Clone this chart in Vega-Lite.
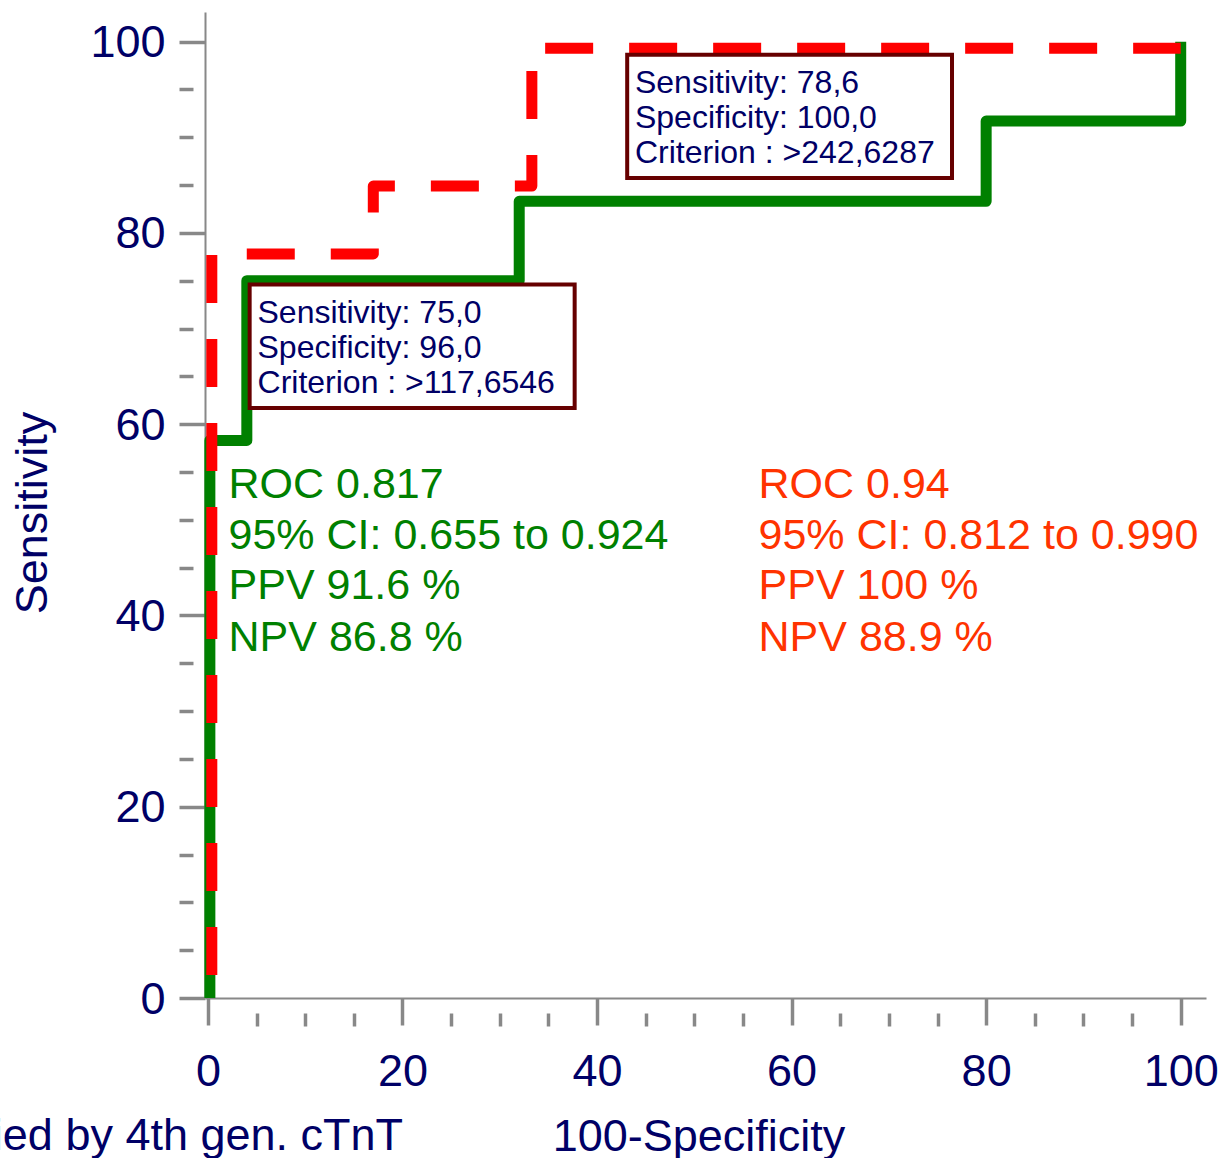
{
  "$schema": "https://vega.github.io/schema/vega-lite/v6.json",
  "width": 1001,
  "height": 986,
  "autosize": {"type": "none"},
  "padding": {"left": 205, "top": 12, "right": 16, "bottom": 160},
  "background": "white",
  "config": {
    "view": {"stroke": null},
    "font": "Liberation Sans",
    "axis": {"grid": false, "labelFont": "Liberation Sans", "titleFont": "Liberation Sans"}
  },
  "datasets": {
    "roc": [
      {"test": "A", "i": 0, "x": 0.2, "y": 0},
      {"test": "A", "i": 1, "x": 0.2, "y": 58.3},
      {"test": "A", "i": 2, "x": 4, "y": 58.3},
      {"test": "A", "i": 3, "x": 4, "y": 75},
      {"test": "A", "i": 4, "x": 32, "y": 75},
      {"test": "A", "i": 5, "x": 32, "y": 83.3},
      {"test": "A", "i": 6, "x": 80, "y": 83.3},
      {"test": "A", "i": 7, "x": 80, "y": 91.7},
      {"test": "A", "i": 8, "x": 100, "y": 91.7},
      {"test": "A", "i": 9, "x": 100, "y": 100},
      {"test": "B", "i": 0, "x": 0.4, "y": 0},
      {"test": "B", "i": 1, "x": 0.4, "y": 77.8},
      {"test": "B", "i": 2, "x": 17.0, "y": 77.8},
      {"test": "B", "i": 3, "x": 17.0, "y": 84.9},
      {"test": "B", "i": 4, "x": 33.3, "y": 84.9},
      {"test": "B", "i": 5, "x": 33.3, "y": 99.3},
      {"test": "B", "i": 6, "x": 100, "y": 99.3}
    ],
    "boxes": [
      {"x": 4.29, "x2": 37.7, "y": 74.6, "y2": 61.69},
      {"x": 43.1, "x2": 76.49, "y": 98.64, "y2": 85.75}
    ],
    "boxtext": [
      {"x": 5.1, "y": 70.62, "text": "Sensitivity: 75,0"},
      {"x": 5.1, "y": 66.95, "text": "Specificity: 96,0"},
      {"x": 5.1, "y": 63.29, "text": "Criterion : >117,6546"},
      {"x": 43.9, "y": 94.67, "text": "Sensitivity: 78,6"},
      {"x": 43.9, "y": 90.97, "text": "Specificity: 100,0"},
      {"x": 43.9, "y": 87.35, "text": "Criterion : >242,6287"}
    ],
    "stats": [
      {"test": "A", "x": 2.12, "y": 52.24, "text": "ROC 0.817"},
      {"test": "A", "x": 2.12, "y": 46.92, "text": "95% CI: 0.655 to 0.924"},
      {"test": "A", "x": 2.12, "y": 41.69, "text": "PPV 91.6 %"},
      {"test": "A", "x": 2.12, "y": 36.32, "text": "NPV 86.8 %"},
      {"test": "B", "x": 56.6, "y": 52.24, "text": "ROC 0.94"},
      {"test": "B", "x": 56.6, "y": 46.92, "text": "95% CI: 0.812 to 0.990"},
      {"test": "B", "x": 56.6, "y": 41.69, "text": "PPV 100 %"},
      {"test": "B", "x": 56.6, "y": 36.32, "text": "NPV 88.9 %"}
    ],
    "note": [
      {"x": 20.06, "y": -15.9, "text": "ROC curves as classified by 4th gen. cTnT"}
    ]
  },
  "resolve": {"axis": {"x": "independent", "y": "independent"}},
  "layer": [
    {
      "data": {"name": "roc"},
      "transform": [{"filter": "datum.test === 'A'"}],
      "mark": {"type": "line", "color": "#008000", "strokeWidth": 11, "strokeJoin": "round", "strokeCap": "butt"},
      "encoding": {
        "x": {"field": "x", "type": "quantitative",
          "scale": {"domain": [-0.3, 102.6], "nice": false, "zero": false},
          "axis": {"orient": "bottom", "values": [0, 20, 40, 60, 80, 100], "tickSize": 27, "tickWidth": 3.5, "tickColor": "#888888",
            "domainColor": "#888888", "domainWidth": 2, "labelFontSize": 45, "labelColor": "#000066", "labelPadding": 60,
            "labelBaseline": "alphabetic", "labelAlign": "center", "labelFlush": false, "labelOverlap": false,
            "title": "100-Specificity", "titleFontSize": 45, "titleFontWeight": "normal", "titleColor": "#000066",
            "titleX": 493.5, "titleY": 152, "titleAlign": "center", "titleBaseline": "alphabetic"}},
        "y": {"field": "y", "type": "quantitative",
          "scale": {"domain": [0, 103.1], "nice": false, "zero": false},
          "axis": {"orient": "left", "values": [0, 20, 40, 60, 80, 100], "tickSize": 26, "tickWidth": 3.5, "tickColor": "#888888",
            "domainColor": "#888888", "domainWidth": 2, "labelFontSize": 45, "labelColor": "#000066", "labelPadding": 14,
            "labelBaseline": "middle", "labelOffset": 1, "labelFlush": false, "labelOverlap": false,
            "title": "Sensitivity", "titleFontSize": 45, "titleFontWeight": "normal", "titleColor": "#000066",
            "titleX": -158.3, "titleY": 500.5, "titleAngle": -90, "titleAlign": "center", "titleBaseline": "alphabetic"}},
        "order": {"field": "i", "type": "quantitative"}
      }
    },
    {
      "data": {"name": "roc"},
      "transform": [{"filter": "datum.test === 'B'"}],
      "mark": {"type": "line", "color": "#ff0000", "strokeWidth": 11, "strokeJoin": "round", "strokeCap": "butt",
        "strokeDash": [48, 36], "strokeDashOffset": 61},
      "encoding": {
        "x": {"field": "x", "type": "quantitative",
          "scale": {"domain": [-0.3, 102.6], "nice": false, "zero": false},
          "axis": {"orient": "bottom", "values": [5, 10, 15, 25, 30, 35, 45, 50, 55, 65, 70, 75, 85, 90, 95],
            "offset": 15, "tickSize": 13, "tickWidth": 3.5, "tickColor": "#888888", "domain": false, "labels": false, "title": null}},
        "y": {"field": "y", "type": "quantitative",
          "scale": {"domain": [0, 103.1], "nice": false, "zero": false},
          "axis": {"orient": "left", "values": [5, 10, 15, 25, 30, 35, 45, 50, 55, 65, 70, 75, 85, 90, 95],
            "offset": 12, "tickSize": 14, "tickWidth": 3.5, "tickColor": "#888888", "domain": false, "labels": false, "title": null}},
        "order": {"field": "i", "type": "quantitative"}
      }
    },
    {
      "data": {"name": "boxes"},
      "mark": {"type": "rect", "fill": "white", "stroke": "#660000", "strokeWidth": 4},
      "encoding": {
        "x": {"field": "x", "type": "quantitative", "scale": {"domain": [-0.3, 102.6], "nice": false, "zero": false}, "axis": null},
        "x2": {"field": "x2"},
        "y": {"field": "y", "type": "quantitative", "scale": {"domain": [0, 103.1], "nice": false, "zero": false}, "axis": null},
        "y2": {"field": "y2"}
      }
    },
    {
      "data": {"name": "boxtext"},
      "mark": {"type": "text", "align": "left", "baseline": "alphabetic", "fontSize": 32, "color": "#000066", "font": "Liberation Sans"},
      "encoding": {
        "x": {"field": "x", "type": "quantitative", "scale": {"domain": [-0.3, 102.6], "nice": false, "zero": false}, "axis": null},
        "y": {"field": "y", "type": "quantitative", "scale": {"domain": [0, 103.1], "nice": false, "zero": false}, "axis": null},
        "text": {"field": "text"}
      }
    },
    {
      "data": {"name": "stats"},
      "mark": {"type": "text", "align": "left", "baseline": "alphabetic", "fontSize": 43, "font": "Liberation Sans"},
      "encoding": {
        "x": {"field": "x", "type": "quantitative", "scale": {"domain": [-0.3, 102.6], "nice": false, "zero": false}, "axis": null},
        "y": {"field": "y", "type": "quantitative", "scale": {"domain": [0, 103.1], "nice": false, "zero": false}, "axis": null},
        "text": {"field": "text"},
        "color": {"field": "test", "type": "nominal", "scale": {"domain": ["A", "B"], "range": ["#008000", "#ff3300"]}, "legend": null}
      }
    },
    {
      "data": {"name": "note"},
      "mark": {"type": "text", "align": "right", "baseline": "alphabetic", "fontSize": 45, "color": "#000066", "font": "Liberation Sans"},
      "encoding": {
        "x": {"field": "x", "type": "quantitative", "scale": {"domain": [-0.3, 102.6], "nice": false, "zero": false}, "axis": null},
        "y": {"field": "y", "type": "quantitative", "scale": {"domain": [0, 103.1], "nice": false, "zero": false}, "axis": null},
        "text": {"field": "text"}
      }
    }
  ]
}
